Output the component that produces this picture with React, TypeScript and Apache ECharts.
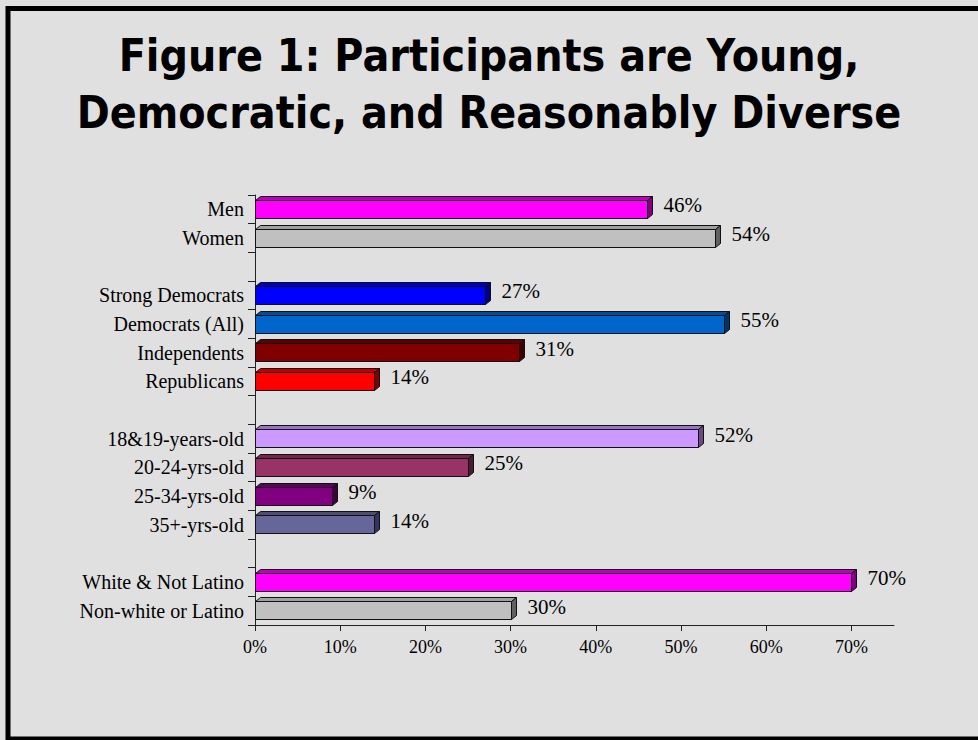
import React, { useEffect, useRef } from "react";
import * as echarts from "echarts";

const titleLines = [
  "Figure 1: Participants are Young,",
  "Democratic, and Reasonably Diverse",
];

const categories = [
  "Men",
  "Women",
  " ",
  "Strong Democrats",
  "Democrats (All)",
  "Independents",
  "Republicans",
  "  ",
  "18&19-years-old",
  "20-24-yrs-old",
  "25-34-yrs-old",
  "35+-yrs-old",
  "   ",
  "White & Not Latino",
  "Non-white or Latino",
];

const values: (number | null)[] = [46, 54, null, 27, 55, 31, 14, null, 52, 25, 9, 14, null, 70, 30];

const frontColors = [
  "#ff00ff", "#c0c0c0", "", "#0000ff", "#0066cc", "#800000", "#ff0000", "",
  "#cc99ff", "#993366", "#800080", "#666699", "", "#ff00ff", "#c0c0c0",
];
const topColors = [
  "#c000c0", "#a0a0a0", "", "#0000c0", "#004d99", "#600000", "#c00000", "",
  "#9973bf", "#73264d", "#600060", "#4d4d73", "", "#c000c0", "#a0a0a0",
];
const sideColors = [
  "#800080", "#606060", "", "#000080", "#003366", "#400000", "#800000", "",
  "#664c80", "#4d1a33", "#400040", "#333366", "", "#800080", "#606060",
];

const xTicks = [0, 10, 20, 30, 40, 50, 60, 70];
const xMax = 75;

export default function App() {
  const ref = useRef<HTMLDivElement>(null);
  useEffect(() => {
    if (!ref.current) return;
    const chart = echarts.init(ref.current, undefined, { renderer: "svg" });
    const data = values
      .map((v, i) => (v === null ? null : [v, i]))
      .filter((d) => d !== null);
    chart.setOption({
      animation: false,
      backgroundColor: "#e0e0e0",
      graphic: [
        {
          type: "rect",
          shape: { x: 8, y: 8.5, width: 1000, height: 730.5 },
          style: { fill: "none", stroke: "#000", lineWidth: 5 },
          z: 10,
        },
        ...titleLines.map((t, i) => ({
          type: "text",
          x: 489,
          y: 56 + i * 57,
          scaleX: 0.905,
          style: {
            text: t,
            fontFamily: '"DejaVu Sans", Verdana, sans-serif',
            fontWeight: "bold",
            fontSize: 44,
            fill: "#000",
            textAlign: "center",
            textVerticalAlign: "middle",
            align: "center",
            verticalAlign: "middle",
          },
        })),
      ],
      grid: { left: 255, top: 195, right: 84, bottom: 115, containLabel: false },
      xAxis: {
        type: "value",
        min: 0,
        max: xMax,
        interval: 10,
        splitLine: { show: false },
        axisLine: { show: true, lineStyle: { color: "#222", width: 1 } },
        axisTick: { show: true, length: 6, lineStyle: { color: "#222" }, customValues: xTicks },
        axisLabel: {
          customValues: xTicks,
          formatter: (v: number) => `${v}%`,
          fontFamily: '"Liberation Serif", "Times New Roman", serif',
          fontSize: 18,
          color: "#000",
          margin: 13,
        },
      },
      yAxis: {
        type: "category",
        data: categories,
        inverse: true,
        axisLine: { show: true, lineStyle: { color: "#222", width: 1 } },
        axisTick: { show: true, length: 7, lineStyle: { color: "#222" } },
        axisLabel: {
          fontFamily: '"Liberation Serif", "Times New Roman", serif',
          fontSize: 20,
          color: "#000",
          margin: 11,
        },
      },
      series: [
        {
          type: "custom",
          clip: false,
          encode: { x: 0, y: 1 },
          data,
          renderItem: (params: any, api: any) => {
            const v = api.value(0);
            const idx = api.value(1);
            const end = api.coord([v, idx]);
            const start = api.coord([0, idx]);
            const h = 18;
            const dx = 5;
            const dy = 4;
            const x0 = Math.round(start[0]) + 0.5;
            const x1 = Math.round(end[0]) + 0.5;
            const top = Math.round(end[1] - 9.5) + 0.5;
            const bottom = top + h;
            return {
              type: "group",
              children: [
                {
                  type: "polygon",
                  shape: { points: [[x0, top], [x0 + dx, top - dy], [x1 + dx, top - dy], [x1, top]] },
                  style: { fill: topColors[idx], stroke: "#111", lineWidth: 1 },
                },
                {
                  type: "polygon",
                  shape: { points: [[x1, top], [x1 + dx, top - dy], [x1 + dx, bottom - dy], [x1, bottom]] },
                  style: { fill: sideColors[idx], stroke: "#111", lineWidth: 1 },
                },
                {
                  type: "rect",
                  shape: { x: x0, y: top, width: x1 - x0, height: h },
                  style: { fill: frontColors[idx], stroke: "#111", lineWidth: 1 },
                },
                {
                  type: "text",
                  x: x1 + 16,
                  y: end[1] - 4,
                  style: {
                    text: `${v}%`,
                    fontFamily: '"Liberation Serif", "Times New Roman", serif',
                    fontSize: 21,
                    fill: "#000",
                    textAlign: "left",
                    textVerticalAlign: "middle",
                    align: "left",
                    verticalAlign: "middle",
                  },
                },
              ],
            };
          },
        },
      ],
    });
    return () => chart.dispose();
  }, []);
  return (
    <div
      ref={ref}
      style={{ position: "absolute", left: 0, top: 0, width: 978, height: 740 }}
    />
  );
}
